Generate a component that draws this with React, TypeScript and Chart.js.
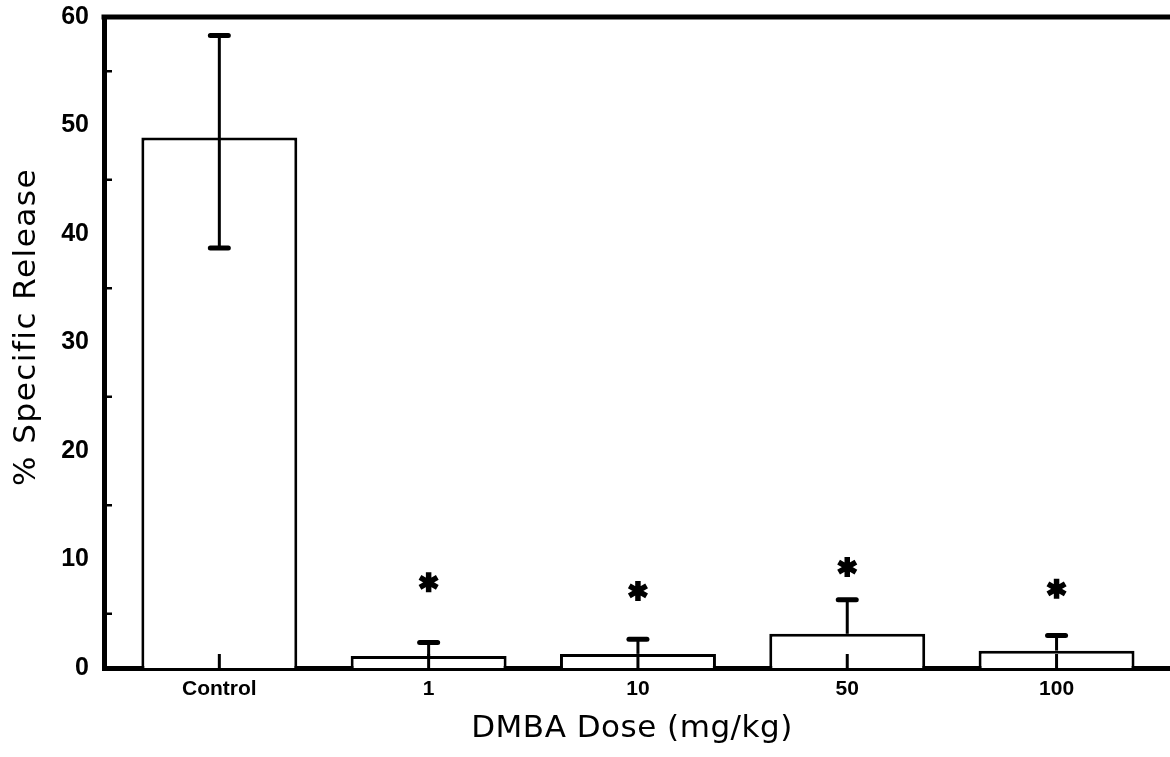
import React, { useEffect, useRef } from "react";
import { Chart, registerables } from "chart.js";

Chart.register(...registerables);

// ---- data ----
const doseLabels = ["Control", "1", "10", "50", "100"];
const meanRelease = [48.9, 1.1, 1.3, 3.15, 1.6];
const errorUp = [9.4, 1.25, 1.35, 3.15, 1.4];
const errorDown = [10.2, 0, 0, 0, 0];
const asteriskLevel: (number | null)[] = [null, 7.9, 7.1, 9.3, 7.3];
const yMinorTicks = [5, 15, 25, 35, 45, 55];

const xTitle = "DMBA Dose (mg/kg)";
const yTitle = "% Specific Release";

const decorPlugin = {
  id: "decor",
  afterDatasetsDraw(chart: any) {
    const { ctx, chartArea, scales } = chart;
    const xs = scales.x;
    const ys = scales.y;
    ctx.save();
    ctx.strokeStyle = "#000";
    ctx.fillStyle = "#000";

    // error bars
    meanRelease.forEach((m, i) => {
      const x = xs.getPixelForValue(i);
      const yTop = ys.getPixelForValue(m + errorUp[i]);
      const yMean = ys.getPixelForValue(m);
      const hasDown = errorDown[i] > 0;
      const yBot = ys.getPixelForValue(m - errorDown[i]);
      ctx.lineWidth = 3;
      ctx.lineCap = "butt";
      ctx.beginPath();
      ctx.moveTo(x, yTop);
      ctx.lineTo(x, hasDown ? yBot : yMean);
      ctx.stroke();
      ctx.lineWidth = 5;
      ctx.lineCap = "round";
      ctx.beginPath();
      ctx.moveTo(x - 9, yTop);
      ctx.lineTo(x + 9, yTop);
      if (hasDown) {
        ctx.moveTo(x - 9, yBot);
        ctx.lineTo(x + 9, yBot);
      }
      ctx.stroke();
    });

    // x-axis inward tick marks
    ctx.lineCap = "butt";
    ctx.lineWidth = 3;
    doseLabels.forEach((_, i) => {
      const x = xs.getPixelForValue(i);
      ctx.beginPath();
      ctx.moveTo(x, chartArea.bottom);
      ctx.lineTo(x, chartArea.bottom - 14);
      ctx.stroke();
    });

    // y-axis minor inward ticks
    ctx.lineWidth = 2.5;
    yMinorTicks.forEach((v) => {
      const y = ys.getPixelForValue(v);
      ctx.beginPath();
      ctx.moveTo(chartArea.left, y);
      ctx.lineTo(chartArea.left + 8, y);
      ctx.stroke();
    });

    // significance asterisks
    asteriskLevel.forEach((v, i) => {
      if (v == null) return;
      const cx = xs.getPixelForValue(i);
      const cy = ys.getPixelForValue(v);
      const r = 10;
      ctx.lineWidth = 5.5;
      ctx.lineCap = "butt";
      ctx.beginPath();
      for (let k = 0; k < 3; k++) {
        const a = Math.PI / 2 + (k * Math.PI) / 3;
        ctx.moveTo(cx - r * Math.cos(a), cy - r * Math.sin(a));
        ctx.lineTo(cx + r * Math.cos(a), cy + r * Math.sin(a));
      }
      ctx.stroke();
    });
    ctx.restore();
  },
  afterDraw(chart: any) {
    const { ctx, chartArea } = chart;
    ctx.save();
    // top frame line
    ctx.strokeStyle = "#000";
    ctx.lineWidth = 5;
    ctx.beginPath();
    ctx.moveTo(chartArea.left - 2.5, chartArea.top);
    ctx.lineTo(chart.width, chartArea.top);
    ctx.stroke();

    // axis titles
    ctx.fillStyle = "#000";
    ctx.font = '31px "DejaVu Sans"';
    ctx.textAlign = "center";
    ctx.textBaseline = "alphabetic";
    (ctx as any).letterSpacing = "0.5px";
    ctx.fillText(xTitle, 632, 737);
    (ctx as any).letterSpacing = "1.5px";
    ctx.translate(35, 327);
    ctx.rotate(-Math.PI / 2);
    ctx.fillText(yTitle, 0, 0);
    ctx.restore();
  },
};

export default function App() {
  const canvasRef = useRef<HTMLCanvasElement | null>(null);

  useEffect(() => {
    const canvas = canvasRef.current;
    if (!canvas) return;
    const chart = new Chart(canvas, {
      type: "bar",
      data: {
        datasets: [
          {
            data: meanRelease.map((y, i) => ({ x: i, y })),
            backgroundColor: "#ffffff",
            borderColor: "#000000",
            borderWidth: 3,
            borderSkipped: "start",
            categoryPercentage: 1,
            barPercentage: 0.745,
          },
        ],
      },
      options: {
        responsive: false,
        animation: false,
        devicePixelRatio: 1,
        layout: { padding: { top: 17, right: 0, left: 0, bottom: 0 } },
        plugins: {
          legend: { display: false },
          tooltip: { enabled: false },
        },
        scales: {
          x: {
            type: "linear",
            offset: false,
            min: -0.551,
            max: 4.542,
            grid: { display: false, drawTicks: false },
            border: { display: true, width: 5, color: "#000" },
            afterBuildTicks: (scale: any) => {
              scale.ticks = doseLabels.map((_, i) => ({ value: i }));
            },
            afterFit: (scale: any) => {
              scale.height = 89;
              scale.paddingLeft = 0;
              scale.paddingRight = 0;
            },
            ticks: {
              autoSkip: false,
              maxRotation: 0,
              padding: 9,
              color: "#000",
              font: { family: '"Liberation Sans", Arial, sans-serif', size: 21, weight: "bold" },
              callback: (v: any) => doseLabels[v] ?? "",
            },
          },
          y: {
            min: 0,
            max: 60,
            grid: { display: false, drawTicks: false },
            border: { display: true, width: 5, color: "#000" },
            afterFit: (scale: any) => {
              scale.width = 104;
              scale.paddingTop = 0;
              scale.paddingBottom = 0;
            },
            ticks: {
              stepSize: 10,
              padding: 15,
              color: "#000",
              font: { family: '"Liberation Sans", Arial, sans-serif', size: 25, weight: "bold" },
            },
          },
        },
      } as any,
      plugins: [decorPlugin],
    });
    return () => chart.destroy();
  }, []);

  return (
    <div style={{ position: "absolute", left: 0, top: 0, width: 1170, height: 757, background: "#fff" }}>
      <canvas ref={canvasRef} width={1170} height={757} />
    </div>
  );
}
